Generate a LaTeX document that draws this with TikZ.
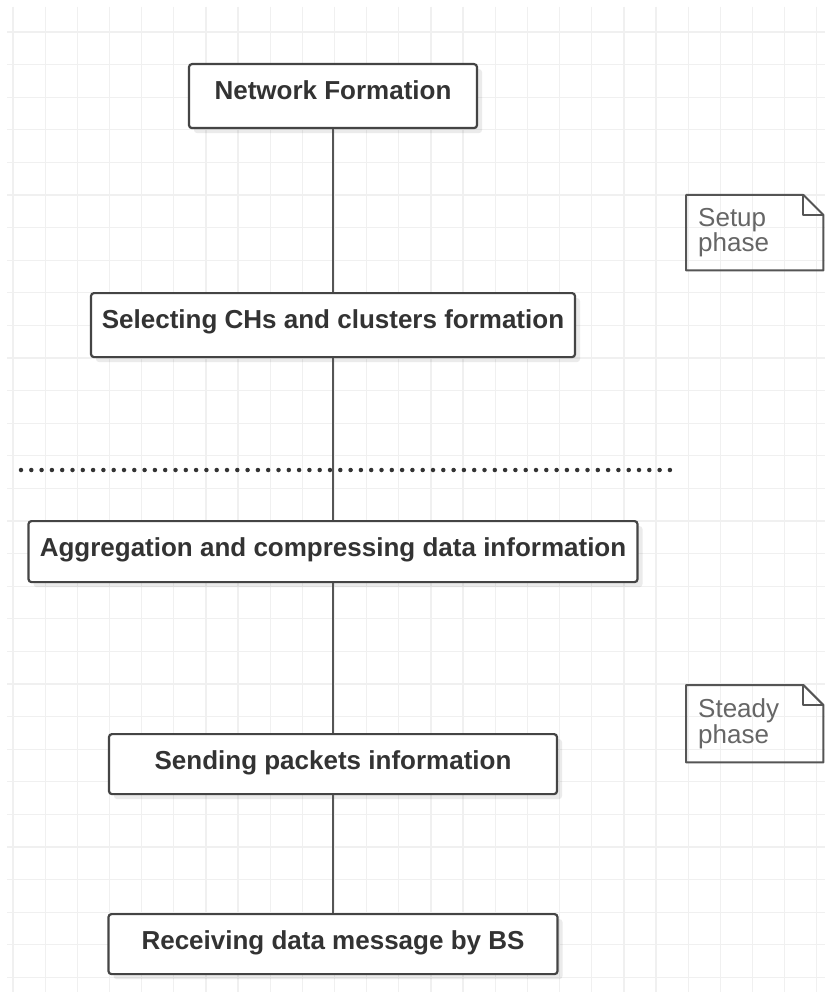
\documentclass[tikz,border=0pt]{standalone}
\usepackage{fontspec}
\setmainfont{Liberation Sans}
\usetikzlibrary{shadows,calc}
\definecolor{txt}{HTML}{333333}
\definecolor{edge}{HTML}{444444}
\definecolor{conncol}{HTML}{555555}
\definecolor{gridc}{HTML}{F0F0F0}
\definecolor{notetxt}{HTML}{666666}
\begin{document}
\begin{tikzpicture}[x=1pt,y=-1pt,
  gridline/.style={draw=gridc, line width=1.3pt},
  stepbox/.style={draw=edge, line width=2.2pt, rounded corners=3pt, fill=white,
    anchor=north, inner xsep=0pt, inner ysep=0pt, text height=35pt,
    font=\fontsize{26}{30}\selectfont\bfseries, text=txt,
    drop shadow={shadow xshift=5pt, shadow yshift=-5pt, fill=black, opacity=0.08}},
  conn/.style={draw=conncol, line width=2pt},
  notebox/.style={anchor=north west, minimum width=137pt, inner xsep=12pt, inner ysep=0pt,
    text width=113pt, align=left, font=\fontsize{26}{24}\selectfont, text=notetxt},
  notedraw/.style={draw=conncol, line width=2pt, line join=round},
  dotline/.style={draw=txt, line width=4.5pt, line cap=round, dash pattern=on 0pt off 10.3pt}]
\path[use as bounding box, fill=white] (0,0) rectangle (825,992);
% grid
\foreach \i in {0,...,25} \draw[gridline] (13+\i*32.15,7) -- (13+\i*32.15,992);
\foreach \j in {0,...,29} \draw[gridline] (7,32+\j*32.6) -- (825,32+\j*32.6);
% dotted separator
\coordinate (d1) at (21,470);
\coordinate (d2) at (670,470);
\draw[dotline] (d1) -- (d2);
% boxes
\node[stepbox, minimum width=288pt, text depth=29pt] (b1) at (333,63) {Network Formation};
\node[stepbox, minimum width=484pt, text depth=29pt] (b2) at (333,292) {Selecting CHs and clusters formation};
\node[stepbox, minimum width=609pt, text depth=26pt] (b3) at (333,520) {Aggregation and compressing data information};
\node[stepbox, minimum width=448pt, text depth=25pt] (b4) at (333,733) {Sending packets information};
\node[stepbox, minimum width=449pt, text depth=25pt] (b5) at (333,913) {Receiving data message by BS};
% connectors
\draw[conn] (b1.south) -- (b2.north);
\draw[conn] (b2.south) -- (b3.north);
\draw[conn] (b3.south) -- (b4.north);
\draw[conn] (b4.south) -- (b5.north);
% notes
\node[notebox, minimum height=75pt] (n1) at (686,195) {Setup\\phase};
\draw[notedraw] (n1.north west) -- ($(n1.north east)+(-20,0)$) -- ($(n1.north east)+(0,20)$) -- (n1.south east) -- (n1.south west) -- cycle;
\draw[notedraw] ($(n1.north east)+(-20,0)$) -- ($(n1.north east)+(-20,20)$) -- ($(n1.north east)+(0,20)$);
\node[notebox, minimum height=77pt] (n2) at (686,685) {Steady\\phase};
\draw[notedraw] (n2.north west) -- ($(n2.north east)+(-20,0)$) -- ($(n2.north east)+(0,20)$) -- (n2.south east) -- (n2.south west) -- cycle;
\draw[notedraw] ($(n2.north east)+(-20,0)$) -- ($(n2.north east)+(-20,20)$) -- ($(n2.north east)+(0,20)$);
\end{tikzpicture}
\end{document}
